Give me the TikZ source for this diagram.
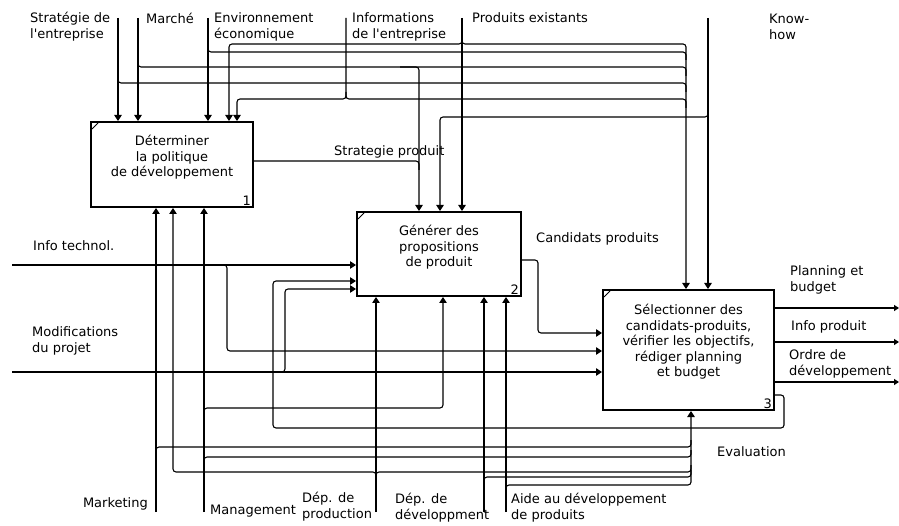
\documentclass[tikz,border=0pt]{standalone}
\usepackage{fontspec}
\setmainfont{DejaVu Sans}
\usetikzlibrary{arrows.meta}

\tikzset{
  procbox/.style={draw, line width=2pt, inner sep=0pt},
  flow/.style={line width=1.1pt, rounded corners=3pt, -{Triangle[length=6pt,width=7.5pt]}},
  link/.style={line width=1.1pt, rounded corners=3pt},
  outflow/.style={line width=1.1pt, -{Triangle[length=5pt,width=6pt]}},
  lbl/.style={font=\fontsize{13}{16}\selectfont, align=left, inner sep=0pt},
  boxtext/.style={font=\fontsize{13}{15.5}\selectfont, align=center, inner sep=0pt},
  boxnum/.style={font=\fontsize{13}{15}\selectfont, inner sep=0pt, anchor=south east},
}

\begin{document}
\begin{tikzpicture}[x=1pt, y=-1pt]
        \useasboundingbox (0,0) rectangle (899,526);

        % Activity boxes
        \node[procbox, minimum width=162pt, minimum height=85pt] (determiner) at (172,164.5) {};
        \node[procbox, minimum width=164pt, minimum height=84pt] (generer) at (439,254) {};
        \node[procbox, minimum width=171pt, minimum height=120pt] (selection) at (688.5,350) {};

        \node[boxtext] (t1) at ([yshift=7pt]determiner.center) {Déterminer\\la politique\\de développement};
        \node[boxtext] (t2) at ([yshift=6.5pt]generer.center) {Générer des\\propositions\\de produit};
        \node[boxtext] (t3) at ([yshift=8pt]selection.center) {Sélectionner des\\candidats-produits,\\vérifier les objectifs,\\rédiger planning\\et budget};

        \node[boxnum] (n1) at ([shift={(-3pt,2pt)}]determiner.south east) {1};
        \node[boxnum] (n2) at ([shift={(-3pt,2pt)}]generer.south east) {2};
        \node[boxnum] (n3) at ([shift={(-3pt,2pt)}]selection.south east) {3};

        \foreach \b in {determiner,generer,selection}
          \draw[line width=1pt] ([shift={(2pt,-8pt)}]\b.north west) -- ([shift={(8pt,-2pt)}]\b.north west);

        % Free ends
        \coordinate (strategie) at (118,18);
        \coordinate (marche) at (138,18);
        \coordinate (environ) at (208,18);
        \coordinate (infoent) at (346,18);
        \coordinate (prodexist) at (462,18);
        \coordinate (knowhow) at (708,18);
        \coordinate (infotech) at (12,265);
        \coordinate (modif) at (12,372);
        \coordinate (marketing) at (156,512);
        \coordinate (management) at (204,512);
        \coordinate (depprod) at (376,512);
        \coordinate (depdev) at (484,512);
        \coordinate (aide) at (506,512);
        \coordinate (ctlsel) at (686,44);
        \coordinate (mecsel) at (691,485);
        \coordinate (planout) at (899,308);
        \coordinate (infoout) at (899,342);
        \coordinate (ordreout) at (899,382);

        % Controls
        \draw[flow] (strategie) -- (strategie |- determiner.north);
        \draw[flow] (marche) -- (marche |- determiner.north);
        \draw[flow] (environ) -- (environ |- determiner.north);
        \draw[link] (strategie |- 0,76) -- (strategie |- 0,83) -- (ctlsel |- 0,83) -- (ctlsel |- 0,92);
        \draw[link] (marche |- 0,60) -- (marche |- 0,67) -- (ctlsel |- 0,67) -- (ctlsel |- 0,76);
        \draw[link] (environ |- 0,45) -- (environ |- 0,52) -- (ctlsel |- 0,52) -- (ctlsel |- 0,60);
        \draw[flow] (400,67) -- (419,67) -- (419,0 |- generer.north);
        \draw[flow] (infoent) -- (infoent |- 0,99) -- (237,99) -- (237,0 |- determiner.north);
        \draw[link] (infoent |- 0,92) -- (infoent |- 0,99) -- (ctlsel |- 0,99) -- (ctlsel |- 0,108);
        \draw[flow] (prodexist) -- (prodexist |- generer.north);
        \draw[flow] (prodexist |- 0,37) -- (prodexist |- 0,44) -- (229,44) -- (229,0 |- determiner.north);
        \draw[flow] (prodexist |- 0,37) -- (prodexist |- 0,44) -- (ctlsel) -- (ctlsel |- selection.north);
        \draw[flow] (knowhow) -- (knowhow |- selection.north);
        \draw[flow] (knowhow |- 0,110) -- (knowhow |- 0,117) -- (440,117) -- (440,0 |- generer.north);
        \draw[link] (determiner.east |- 0,161) -- (419,161) -- (419,170);

        % Inputs and feedback
        \draw[flow] (infotech) -- (infotech -| generer.west);
        \draw[flow] (215,265) -- (227,265) -- (227,351) -- (selection.west |- 0,351);
        \draw[flow] (modif) -- (modif -| selection.west);
        \draw[flow] (272,372) -- (285,372) -- (285,289) -- (generer.west |- 0,289);
        \draw[flow] (generer.east |- 0,260) -- (538,260) -- (538,333) -- (selection.west |- 0,333);
        \draw[flow] (selection.east |- 0,395) -- (784,395) -- (784,428) -- (273,428) -- (273,281) -- (generer.west |- 0,281);

        % Outputs
        \draw[outflow] (selection.east |- planout) -- (planout);
        \draw[outflow] (selection.east |- infoout) -- (infoout);
        \draw[outflow] (selection.east |- ordreout) -- (ordreout);

        % Mechanisms
        \draw[flow] (marketing) -- (marketing |- determiner.south);
        \draw[link] (marketing |- 0,454) -- (marketing |- 0,447) -- (mecsel |- 0,447) -- (mecsel |- 0,440);
        \draw[flow] (management) -- (management |- determiner.south);
        \draw[flow] (management |- 0,415) -- (management |- 0,408) -- (443,408) -- (443,0 |- generer.south);
        \draw[link] (management |- 0,464) -- (management |- 0,457) -- (mecsel |- 0,457) -- (mecsel |- 0,450);
        \draw[flow] (depprod) -- (depprod |- generer.south);
        \draw[flow] (depprod |- 0,479) -- (depprod |- 0,472) -- (173,472) -- (173,0 |- determiner.south);
        \draw[link] (depprod |- 0,479) -- (depprod |- 0,472) -- (mecsel |- 0,472) -- (mecsel |- 0,465);
        \draw[flow] (depdev) -- (depdev |- generer.south);
        \draw[link] (depdev |- 0,484) -- (depdev |- 0,477) -- (mecsel |- 0,477) -- (mecsel |- 0,470);
        \draw[flow] (aide) -- (aide |- generer.south);
        \draw[flow] (aide |- 0,492) -- (aide |- 0,485) -- (mecsel) -- (mecsel |- selection.south);

        % Labels
        \node[lbl, anchor=west] (l1) at (30,26.5) {Stratégie de\\l\textquotesingle entreprise};
        \node[lbl, anchor=west] (l2) at (146,18) {Marché};
        \node[lbl, anchor=west] (l3) at (214,26.5) {Environnement\\économique};
        \node[lbl, anchor=west] (l4) at (352,26.5) {Informations\\de l\textquotesingle entreprise};
        \node[lbl, anchor=west] (l5) at (472,18) {Produits existants};
        \node[lbl, anchor=west] (l6) at (769,26.5) {Know-\\how};
        \node[lbl, anchor=west] (l7) at (334,152) {Strategie produit};
        \node[lbl, anchor=west] (l8) at (33,246) {Info technol.};
        \node[lbl, anchor=west] (l9) at (32,341) {Modifications\\du projet};
        \node[lbl, anchor=west] (l10) at (536,239) {Candidats produits};
        \node[lbl, anchor=west] (l11) at (790,280) {Planning et\\budget};
        \node[lbl, anchor=west] (l12) at (791,327) {Info produit};
        \node[lbl, anchor=west] (l13) at (789,363.5) {Ordre de\\développement};
        \node[lbl, anchor=west] (l14) at (717,452) {Evaluation};
        \node[lbl, anchor=east] (l15) at (148,504) {Marketing};
        \node[lbl, anchor=west] (l16) at (210,511) {Management};
        \node[lbl, anchor=west] (l17) at (302,507) {Dép. de\\production};
        \node[lbl, anchor=west] (l18) at (395,508) {Dép. de\\développment};
        \node[lbl, anchor=west] (l19) at (511,508) {Aide au développement\\de produits};
\end{tikzpicture}
\end{document}
